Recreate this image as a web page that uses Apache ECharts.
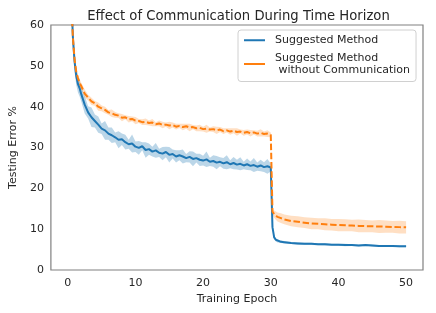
<!DOCTYPE html>
<html><head><meta charset="utf-8">
<script src="https://cdn.jsdelivr.net/npm/echarts@6/dist/echarts.min.js"></script>
<style>html,body{margin:0;padding:0;background:#fff}#c{width:436px;height:313px}</style>
</head><body><div id="c"></div>
<script>
const epochs = [
 0, 0.25, 0.5, 0.75, 1, 1.25, 1.5, 1.75,
 2, 2.5, 3, 3.5, 4, 4.5, 5, 5.5, 6, 6.5,
 7, 7.5, 8, 8.5, 9, 9.5, 10, 10.5, 11, 11.5,
 12, 12.5, 13, 13.5, 14, 14.5, 15, 15.5, 16, 16.5,
 17, 17.5, 18, 18.5, 19, 19.5, 20, 20.5, 21, 21.5,
 22, 22.5, 23, 23.5, 24, 24.5, 25, 25.5, 26, 26.5,
 27, 27.5, 28, 28.5, 29, 29.5, 30,
 30.25, 30.5, 30.75, 31, 31.5, 32, 33, 34, 35, 36,
 37, 38, 39, 40, 41, 42, 43, 44, 45, 46,
 47, 48, 49, 50
];
const blueMean = [
 95, 82, 68, 57, 51, 47.5, 45.5, 44.5,
 43, 40.5, 38.6, 37.4, 36.5, 35.6, 34.6, 34.2, 33.4, 33.0,
 32.5, 31.9, 32.0, 31.3, 30.8, 31.0, 30.2, 29.9, 30.3, 29.4,
 29.6, 29.0, 29.3, 28.7, 28.5, 28.9, 28.2, 28.4, 27.8, 28.1,
 27.8, 27.4, 27.7, 27.2, 27.4, 27.0, 26.8, 27.1, 26.5, 26.7,
 26.3, 26.5, 26.1, 26.4, 25.9, 26.2, 25.8, 26.0, 25.6, 25.9,
 25.5, 25.7, 25.3, 25.6, 25.2, 25.4, 25.1,
 10.5, 8.0, 7.4, 7.1, 6.9, 6.8, 6.6, 6.5, 6.4, 6.4,
 6.3, 6.3, 6.2, 6.2, 6.1, 6.1, 6.0, 6.1, 6.0, 5.9,
 5.9, 5.9, 5.8, 5.8
];
const blueSpread = [
 3, 3, 3, 2.5, 2.5, 2.2, 2.0, 2.0,
 1.8, 2.2, 1.5, 2.4, 1.6, 2.0, 1.3, 2.3, 1.5, 1.9,
 1.2, 2.1, 1.4, 1.8, 1.1, 2.2, 1.3, 1.7, 1.0, 1.9,
 1.4, 1.2, 1.8, 1.0, 1.6, 1.3, 1.9, 1.1, 1.5, 1.2,
 1.7, 1.0, 1.4, 1.8, 1.1, 1.5, 1.2, 1.9, 1.0, 1.4,
 1.6, 1.1, 1.3, 1.7, 1.0, 1.5, 1.2, 1.6, 0.9, 1.4,
 1.1, 1.7, 1.0, 1.4, 1.2, 1.8, 1.0,
 0.6, 0.5, 0.4, 0.35, 0.3, 0.3, 0.25, 0.3, 0.25, 0.3,
 0.25, 0.3, 0.2, 0.25, 0.3, 0.2, 0.25, 0.2, 0.25, 0.2,
 0.25, 0.2, 0.2, 0.2
];
const orangeMean = [
 95, 80, 66, 57, 51.5, 48.5, 47, 45.8,
 45.0, 43.2, 42.2, 41.3, 40.8, 40.0, 39.6, 39.2, 38.6, 38.4,
 38.0, 37.8, 37.3, 37.4, 36.9, 37.0, 36.6, 36.5, 36.2, 36.3,
 36.0, 36.1, 35.7, 35.9, 35.5, 35.6, 35.4, 35.5, 35.1, 35.3,
 35.0, 35.2, 34.9, 35.0, 34.7, 34.8, 34.5, 34.6, 34.4, 34.5,
 34.2, 34.4, 34.0, 34.2, 33.9, 34.1, 33.8, 33.9, 33.6, 33.8,
 33.5, 33.7, 33.4, 33.6, 33.3, 33.4, 33.1,
 14.3, 13.7, 13.3, 13.0, 12.7, 12.4, 12.0, 11.8, 11.6, 11.4,
 11.3, 11.2, 11.1, 11.0, 10.95, 10.9, 10.8, 10.75, 10.7, 10.65,
 10.6, 10.55, 10.5, 10.45
];
const orangeSpread = [
 1.5, 1.5, 1.2, 1.0, 1.0, 0.9, 0.8, 0.9,
 0.8, 1.0, 0.7, 0.9, 0.6, 1.0, 0.7, 0.8, 0.6, 0.9,
 0.7, 0.6, 0.9, 0.5, 0.8, 0.6, 0.9, 0.5, 0.7, 0.8,
 0.6, 0.9, 0.5, 0.7, 0.8, 0.5, 0.9, 0.6, 0.7, 0.5,
 0.8, 0.6, 0.9, 0.5, 0.7, 0.8, 0.6, 1.0, 0.5, 0.7,
 0.9, 0.6, 0.7, 0.5, 0.8, 0.6, 0.9, 0.5, 0.7, 0.6,
 0.8, 0.5, 0.7, 0.9, 0.6, 0.8, 0.6,
 0.8, 0.9, 1.0, 1.1, 1.2, 1.2, 1.3, 1.35, 1.3, 1.4,
 1.35, 1.45, 1.4, 1.5, 1.45, 1.4, 1.55, 1.5, 1.45, 1.6,
 1.5, 1.45, 1.55, 1.5
];
const xTicks = [0, 10, 20, 30, 40, 50];
const yTicks = [0, 10, 20, 30, 40, 50, 60];
const seriesNames = ['Suggested Method', 'Suggested Method\n without Communication'];

const BLUE = '#1f77b4', ORANGE = '#ff7f0e';
const FONT = 'DejaVu Sans';
const TXT = '#262626';

function pairs(vals) { return epochs.map((e, i) => [e, vals[i]]); }

function band(mean, spread, color) {
  const data = epochs.map((e, i) => [e, mean[i] - spread[i], mean[i] + spread[i]]);
  return {
    type: 'custom', silent: true, z: 1, clip: true,
    data: data,
    encode: { x: 0, y: [1, 2] },
    renderItem: function (params, api) {
      if (params.dataIndex !== 0) return null;
      const pts = [];
      for (let i = 0; i < data.length; i++) pts.push(api.coord([data[i][0], data[i][2]]));
      for (let i = data.length - 1; i >= 0; i--) pts.push(api.coord([data[i][0], data[i][1]]));
      return { type: 'polygon', shape: { points: pts }, style: { fill: color, stroke: null } };
    }
  };
}

const chart = echarts.init(document.getElementById('c'), null, { renderer: 'canvas' });
chart.setOption({
  animation: false,
  backgroundColor: '#fff',
  title: {
    text: 'Effect of Communication During Time Horizon',
    left: 233.5, top: 5, textAlign: 'center',
    textStyle: { fontFamily: FONT, fontSize: 13.2, fontWeight: 'normal', color: TXT }
  },
  grid: { left: 44, right: 13, top: 25, bottom: 43, show: true, borderColor: '#808080', borderWidth: 1.2, backgroundColor: 'transparent' },
  legend: {
    data: seriesNames.map((n, i) => ({ name: n, itemStyle: { color: i ? ORANGE : BLUE } })),
    orient: 'vertical', left: 238, top: 30,
    padding: [4, 6, 5, 6], itemGap: 5,
    icon: 'rect', itemWidth: 21, itemHeight: 2,
    backgroundColor: '#fff', borderColor: '#d0d0d0', borderWidth: 1, borderRadius: 3,
    textStyle: { fontFamily: FONT, fontSize: 11, color: TXT, lineHeight: 12.5, padding: [0, 0, 0, 5] }
  },
  xAxis: {
    type: 'value', min: -2.5, max: 52.5,
    name: 'Training Epoch', nameLocation: 'middle', nameGap: 22,
    nameTextStyle: { fontFamily: FONT, fontSize: 11, color: TXT },
    axisLine: { show: false }, axisTick: { show: false }, splitLine: { show: false },
    axisLabel: { customValues: xTicks, fontFamily: FONT, fontSize: 11, color: TXT, margin: 8 }
  },
  yAxis: {
    type: 'value', min: 0, max: 60, interval: 10,
    name: 'Testing Error %', nameLocation: 'middle', nameGap: 26,
    nameTextStyle: { fontFamily: FONT, fontSize: 11, color: TXT },
    axisLine: { show: false }, axisTick: { show: false }, splitLine: { show: false },
    axisLabel: { customValues: yTicks, fontFamily: FONT, fontSize: 11, color: TXT, margin: 7 }
  },
  series: [
    band(blueMean, blueSpread, 'rgba(31,119,180,0.3)'),
    { name: seriesNames[0], type: 'line', data: pairs(blueMean), symbol: 'none', color: BLUE,
      lineStyle: { color: BLUE, width: 2 }, z: 3 },
    band(orangeMean, orangeSpread, 'rgba(255,127,14,0.25)'),
    { name: seriesNames[1], type: 'line', data: pairs(orangeMean), symbol: 'none', color: ORANGE,
      lineStyle: { color: ORANGE, width: 2, type: [6.5, 2.7] }, z: 4 }
  ]
});
</script>
</body></html>
